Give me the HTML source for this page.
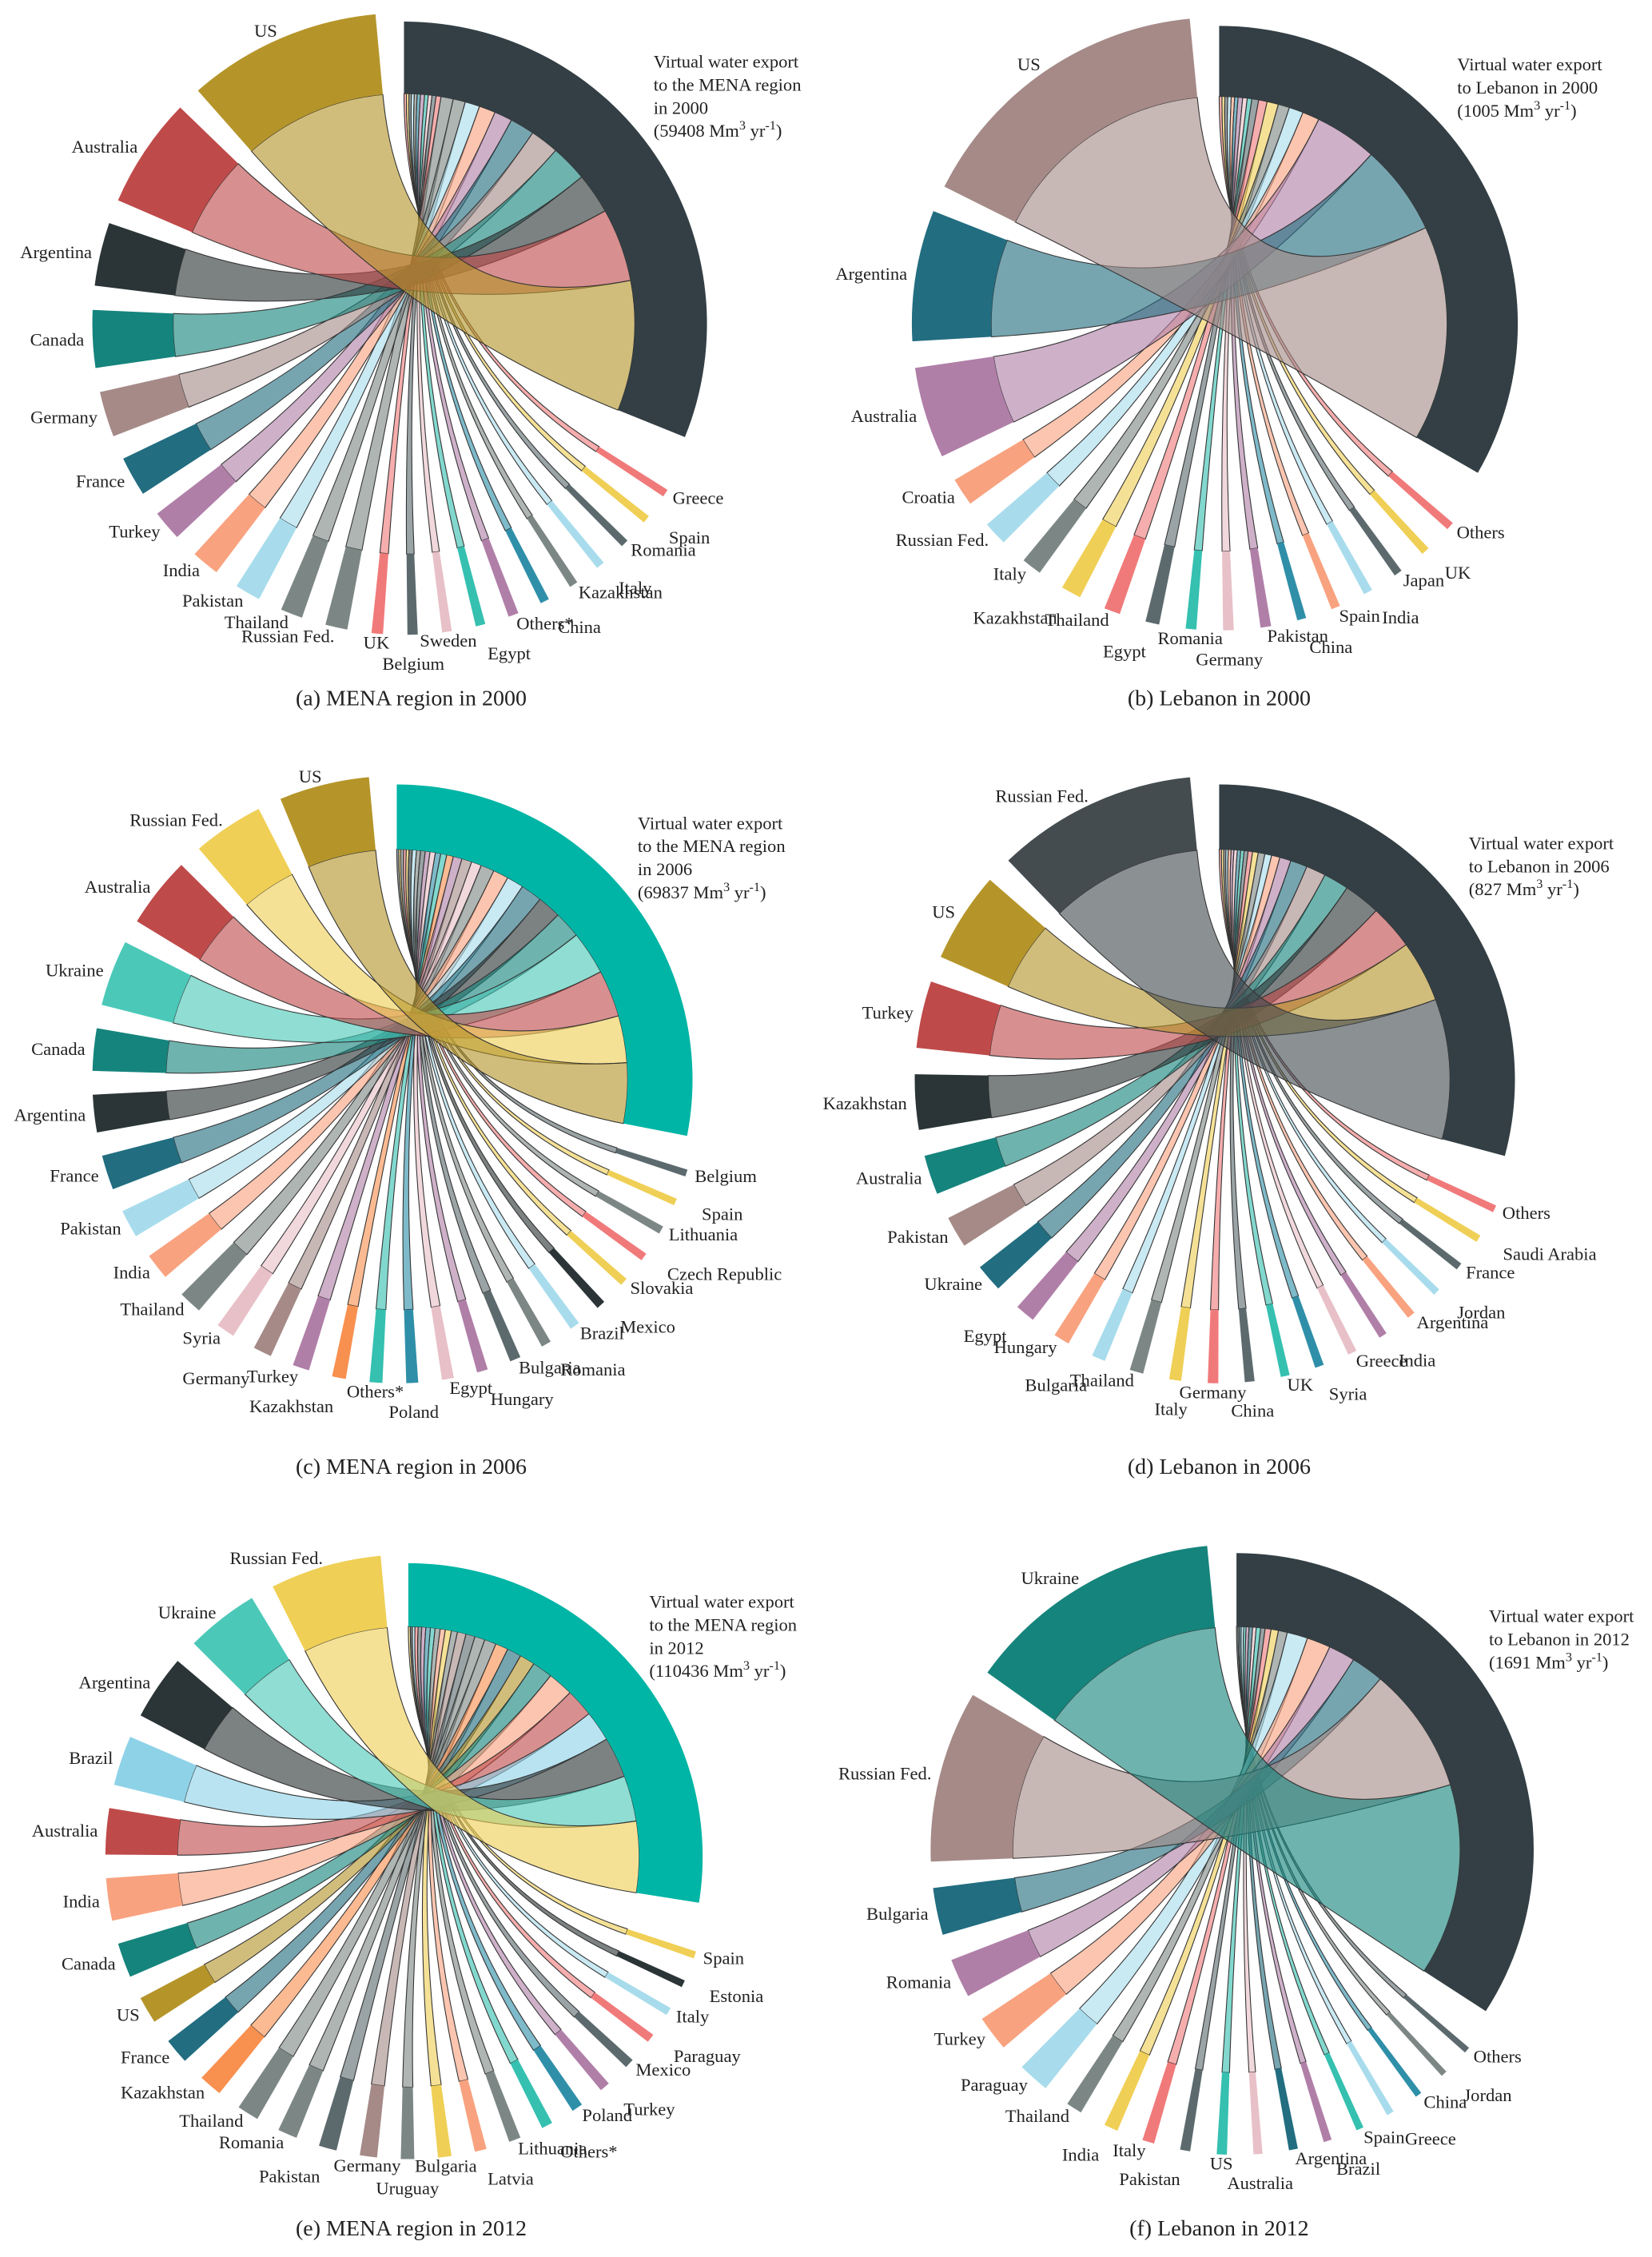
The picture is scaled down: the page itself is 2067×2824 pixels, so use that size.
<!DOCTYPE html>
<html><head><meta charset="utf-8">
<style>
html,body{margin:0;padding:0;background:#fff;}
svg{display:block;}
text{font-family:"Liberation Serif",serif;fill:#222;}
</style></head>
<body>
<svg id="fig" width="2067" height="2824" viewBox="0 0 1145 1568" preserveAspectRatio="none" xmlns="http://www.w3.org/2000/svg">
<g font-size="12.5">
 <text x="453" y="47"><tspan x="453">Virtual water export</tspan><tspan x="453" dy="16">to the MENA region</tspan><tspan x="453" dy="16">in 2000</tspan><tspan x="453" dy="16">(59408  Mm</tspan><tspan baseline-shift="super" font-size="9">3</tspan><tspan> yr</tspan><tspan baseline-shift="super" font-size="9">-1</tspan><tspan>)</tspan></text>
 <text x="1010" y="49"><tspan x="1010">Virtual water export</tspan><tspan x="1010" dy="16">to Lebanon in 2000</tspan><tspan x="1010" dy="16">(1005  Mm</tspan><tspan baseline-shift="super" font-size="9">3</tspan><tspan> yr</tspan><tspan baseline-shift="super" font-size="9">-1</tspan><tspan>)</tspan></text>
 <text x="442" y="576"><tspan x="442">Virtual water export</tspan><tspan x="442" dy="16">to the MENA region</tspan><tspan x="442" dy="16">in 2006</tspan><tspan x="442" dy="16">(69837  Mm</tspan><tspan baseline-shift="super" font-size="9">3</tspan><tspan> yr</tspan><tspan baseline-shift="super" font-size="9">-1</tspan><tspan>)</tspan></text>
 <text x="1018" y="590"><tspan x="1018">Virtual water export</tspan><tspan x="1018" dy="16">to Lebanon in 2006</tspan><tspan x="1018" dy="16">(827  Mm</tspan><tspan baseline-shift="super" font-size="9">3</tspan><tspan> yr</tspan><tspan baseline-shift="super" font-size="9">-1</tspan><tspan>)</tspan></text>
 <text x="450" y="1117"><tspan x="450">Virtual water export</tspan><tspan x="450" dy="16">to the MENA region</tspan><tspan x="450" dy="16">in 2012</tspan><tspan x="450" dy="16">(110436  Mm</tspan><tspan baseline-shift="super" font-size="9">3</tspan><tspan> yr</tspan><tspan baseline-shift="super" font-size="9">-1</tspan><tspan>)</tspan></text>
 <text x="1032" y="1127"><tspan x="1032">Virtual water export</tspan><tspan x="1032" dy="16">to Lebanon in 2012</tspan><tspan x="1032" dy="16">(1691  Mm</tspan><tspan baseline-shift="super" font-size="9">3</tspan><tspan> yr</tspan><tspan baseline-shift="super" font-size="9">-1</tspan><tspan>)</tspan></text>
</g>
<g font-size="15.5" text-anchor="middle">
 <text x="285" y="490">(a) MENA region in 2000</text>
 <text x="845" y="490">(b) Lebanon in 2000</text>
 <text x="285" y="1024">(c) MENA region in 2006</text>
 <text x="845" y="1024">(d) Lebanon in 2006</text>
 <text x="285" y="1553">(e) MENA region in 2012</text>
 <text x="845" y="1553">(f) Lebanon in 2012</text>
</g>
</svg>
<script>
const aNames=["Greece","Spain","Romania","Italy","Kazakhstan","China","Others*","Egypt","Sweden","Belgium","UK","Russian Fed.","Thailand","Pakistan","India","Turkey","France","Germany","Canada","Argentina","Australia","US"];
const aValues=[300,300,300,350,350,400,500,450,450,500,600,1500,1500,1800,2000,2200,3000,3500,4500,5000,9000,16000];
const aColors=["#f07a7a","#efcf55","#5c6a6e","#a8dcec","#7c8785","#2f8fa8","#b07fa8","#35c0b0","#e8c0c8","#5c6a6e","#f07a7a","#7c8785","#7c8785","#a8dcec","#f8a27f","#b07fa8","#226d80","#a58a88","#15847c","#2b3436","#bf4a4a","#b5952a"];

const bNames=["Others","UK","Japan","India","Spain","China","Pakistan","Germany","Romania","Egypt","Thailand","Kazakhstan","Italy","Russian Fed.","Croatia","Australia","Argentina","US"];
const bValues=[5,5,5,6,6,6,8,8,8,12,15,20,20,25,30,110,160,380];
const bColors=["#f07a7a","#efcf55","#5c6a6e","#a8dcec","#f8a27f","#2f8fa8","#b07fa8","#e8c0c8","#35c0b0","#5c6a6e","#f07a7a","#efcf55","#7c8785","#a8dcec","#f8a27f","#b07fa8","#226d80","#a58a88"];

const cNames=["Belgium","Spain","Lithuania","Czech Republic","Slovakia","Mexico","Brazil","Romania","Bulgaria","Hungary","Egypt","Poland","Others*","Kazakhstan","Turkey","Germany","Syria","Thailand","India","Pakistan","France","Argentina","Canada","Ukraine","Australia","Russian Fed.","US"];
const cValues=[300,300,400,400,400,500,600,600,700,700,800,800,900,1000,1300,1500,1500,2000,2300,2500,3200,3500,4000,6500,7000,7000,9000];
const cColors=["#5c6a6e","#efcf55","#7c8785","#f07a7a","#efcf55","#2b3436","#a8dcec","#7c8785","#5c6a6e","#b07fa8","#e8c0c8","#2f8fa8","#35c0b0","#f8904f","#b07fa8","#a58a88","#e8c0c8","#7c8785","#f8a27f","#a8dcec","#226d80","#2b3436","#15847c","#4bc8b8","#bf4a4a","#efcf55","#b5952a"];

const dNames=["Others","Saudi Arabia","France","Jordan","Argentina","India","Greece","Syria","UK","China","Germany","Italy","Thailand","Bulgaria","Hungary","Egypt","Ukraine","Pakistan","Australia","Kazakhstan","Turkey","US","Russian Fed."];
const dValues=[4,4,4,4,5,5,6,6,6,7,8,10,12,12,15,20,30,35,45,65,80,110,250];
const dColors=["#f07a7a","#efcf55","#5c6a6e","#a8dcec","#f8a27f","#b07fa8","#e8c0c8","#2f8fa8","#35c0b0","#5c6a6e","#f07a7a","#efcf55","#7c8785","#a8dcec","#f8a27f","#b07fa8","#226d80","#a58a88","#15847c","#2b3436","#bf4a4a","#b5952a","#444c50"];

const eNames=["Spain","Estonia","Italy","Paraguay","Mexico","Turkey","Poland","Others*","Lithuania","Latvia","Bulgaria","Uruguay","Germany","Pakistan","Romania","Thailand","Kazakhstan","France","US","Canada","India","Australia","Brazil","Argentina","Ukraine","Russian Fed."];
const eValues=[400,400,500,600,700,800,900,900,1000,1000,1200,1200,1700,1800,2000,2300,2500,2800,3000,4000,5000,5500,6000,8000,9000,14000];
const eColors=["#efcf55","#2b3436","#a8dcec","#f07a7a","#5c6a6e","#b07fa8","#2f8fa8","#35c0b0","#7c8785","#f8a27f","#efcf55","#7c8785","#a58a88","#5c6a6e","#7c8785","#7c8785","#f8904f","#226d80","#b5952a","#15847c","#f8a27f","#bf4a4a","#8ed2e8","#2b3436","#4bc8b8","#efcf55"];

const fNames=["Others","Jordan","China","Greece","Spain","Brazil","Argentina","Australia","US","Pakistan","Italy","India","Thailand","Paraguay","Turkey","Romania","Bulgaria","Russian Fed.","Ukraine"];
const fValues=[5,5,6,8,8,10,12,12,15,15,20,25,30,70,80,90,110,430,650];
const fColors=["#5c6a6e","#7c8785","#2f8fa8","#a8dcec","#35c0b0","#b07fa8","#226d80","#e8c0c8","#35c0b0","#5c6a6e","#f07a7a","#efcf55","#7c8785","#a8dcec","#f8a27f","#b07fa8","#226d80","#a58a88","#15847c"];

const panels=[
 {id:"a",names:aNames,values:aValues,colors:aColors,cx:280,cy:225,rin:160,rout:210,destEnd:112,destColor:"#333f44",s0:120,s1:357,gap:4.5},
 {id:"b",names:bNames,values:bValues,colors:bColors,cx:845,cy:225,rin:158,rout:207,destEnd:120,destColor:"#333f44",s0:128,s1:357,gap:5},
 {id:"c",names:cNames,values:cValues,colors:cColors,cx:275,cy:750,rin:160,rout:205,destEnd:101,destColor:"#00b5a5",s0:105,s1:357,gap:4.5},
 {id:"d",names:dNames,values:dValues,colors:dColors,cx:845,cy:750,rin:160,rout:205,destEnd:105,destColor:"#333f44",s0:112,s1:357,gap:5},
 {id:"e",names:eNames,values:eValues,colors:eColors,cx:283,cy:1290,rin:160,rout:204,destEnd:99,destColor:"#00b5a5",s0:106,s1:357,gap:4.5},
 {id:"f",names:fNames,values:fValues,colors:fColors,cx:857,cy:1285,rin:155,rout:206,destEnd:123,destColor:"#333f44",s0:128,s1:357,gap:5}
];

const NS="http://www.w3.org/2000/svg";
const svg=document.getElementById("fig");
function pt(cx,cy,r,deg){const a=deg*Math.PI/180;return [cx+r*Math.sin(a),cy-r*Math.cos(a)];}
function f(p){return p[0].toFixed(2)+","+p[1].toFixed(2);}
function sector(cx,cy,ri,ro,a0,a1){
  const lg=(a1-a0)>180?1:0;
  return "M"+f(pt(cx,cy,ro,a0))+"A"+ro+","+ro+" 0 "+lg+" 1 "+f(pt(cx,cy,ro,a1))+"L"+f(pt(cx,cy,ri,a1))+"A"+ri+","+ri+" 0 "+lg+" 0 "+f(pt(cx,cy,ri,a0))+"Z";
}
panels.forEach(function(P){
  const g=document.createElementNS(NS,"g");
  
  
  svg.appendChild(g);
  const n=P.values.length, minSpan=0.8;
  const sum=P.values.reduce((s,v)=>s+v,0);
  const k=((P.s1-P.s0)-n*(P.gap+minSpan))/sum;
  let a=P.s0, d=0;
  const segs=[];
  for(let i=0;i<n;i++){
    const span=minSpan+P.values[i]*k;
    const dspan=P.values[i]/sum*P.destEnd;
    segs.push({s0:a+P.gap/2,s1:a+P.gap/2+span,d0:d,d1:d+dspan});
    a+=span+P.gap; d+=dspan;
  }
  const ri=P.rin, cx=P.cx, cy=P.cy;
  segs.forEach(function(s,i){
    const p=document.createElementNS(NS,"path");
    const lg=(s.d1-s.d0)>180?1:0;
    const dd="M"+f(pt(cx,cy,ri,s.s0))+"A"+ri+","+ri+" 0 0 1 "+f(pt(cx,cy,ri,s.s1))+
      "Q"+cx+","+cy+" "+f(pt(cx,cy,ri,s.d0))+"A"+ri+","+ri+" 0 "+lg+" 1 "+f(pt(cx,cy,ri,s.d1))+
      "Q"+cx+","+cy+" "+f(pt(cx,cy,ri,s.s0))+"Z";
    p.setAttribute("d",dd);
    p.setAttribute("fill",P.colors[i]);
    p.setAttribute("fill-opacity","0.62");
    p.setAttribute("stroke","#333");
    p.setAttribute("stroke-width","0.6");
    
    
    g.appendChild(p);
  });
  const da=document.createElementNS(NS,"path");
  da.setAttribute("d",sector(cx,cy,ri,P.rout,0,P.destEnd));
  da.setAttribute("fill",P.destColor);
  
  
  g.appendChild(da);
  segs.forEach(function(s,i){
    const p=document.createElementNS(NS,"path");
    p.setAttribute("d",sector(cx,cy,ri,P.rout+6,s.s0,s.s1));
    p.setAttribute("fill",P.colors[i]);
    
    
    g.appendChild(p);
    const mid=(s.s0+s.s1)/2;
    const small=(s.s1-s.s0)<4;
    const rr=P.rout+12+(small?(i%2)*14:0);
    const q=pt(cx,cy,rr,mid);
    const sn=Math.sin(mid*Math.PI/180);
    const t=document.createElementNS(NS,"text");
    t.setAttribute("x",q[0].toFixed(1));
    t.setAttribute("y",q[1].toFixed(1));
    t.setAttribute("dy","0.35em");
    t.setAttribute("font-size","12.5");
    t.setAttribute("text-anchor",sn>0.15?"start":(sn<-0.15?"end":"middle"));
    t.textContent=P.names[i];
    
    
    g.appendChild(t);
  });
});
</script>
</body></html>
